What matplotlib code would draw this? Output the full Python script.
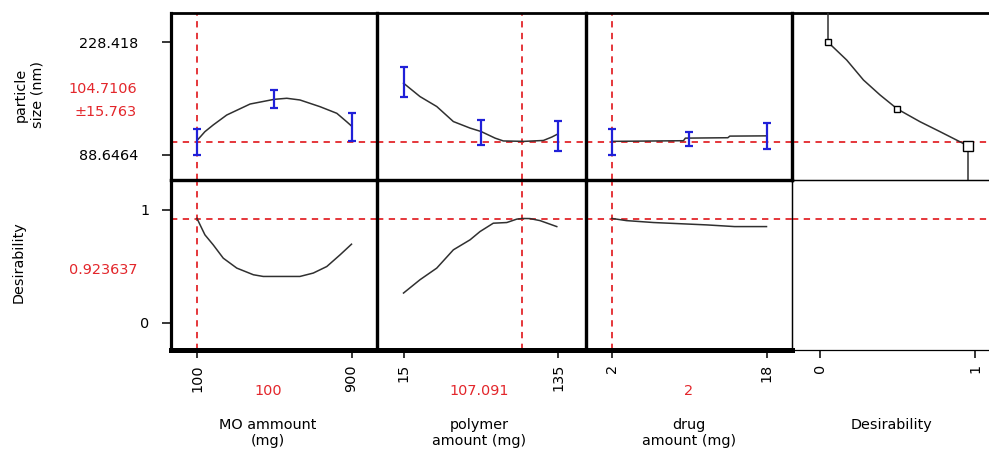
import matplotlib
matplotlib.use("Agg")
import matplotlib.pyplot as plt

plt.rcParams['font.family'] = ['DejaVu Sans']

# ---------------- data ----------------
factor_titles = ["MO ammount\n(mg)", "polymer\namount (mg)", "drug\namount (mg)", "Desirability"]
factor_ticks = [[100, 900], [15, 135], [2, 18], [0, 1]]
factor_current = ["100", "107.091", "2"]
current_x = [100, 107.091, 2]

size_ticks = [88.6464, 228.418]
size_ticklabels = ["88.6464", "228.418"]
size_current = 104.7106
size_ci_label = "104.7106\n±15.763"
des_ticks = [0, 1]
des_current = 0.923637

# particle size profiles
mo_x = [100, 141, 184, 254, 375, 500, 565, 633, 737, 824, 875, 900]
mo_size = [106.5, 117.5, 125.8, 138.1, 151.7, 157.5, 158.8, 156.7, 148.4, 140.2, 129.8, 124.5]
mo_bar_x = [100, 500, 900]
mo_bar_size = [104.7, 157.9, 123.3]
mo_bar_err = [15.76, 11.1, 17.3]

poly_x = [15, 27.8, 40.8, 53.7, 66.7, 75.2, 86.1, 92.5, 108.8, 123.6, 130.1, 134.8]
poly_size = [177.5, 160.9, 148.6, 130.0, 121.9, 117.7, 109.5, 106.0, 105.5, 106.6, 110.8, 114.6]
poly_bar_x = [15, 75, 135]
poly_bar_size = [178.9, 115.9, 112.4]
poly_bar_err = [18.9, 15.5, 18.8]

drug_x = [2, 9.4, 9.6, 14.0, 14.2, 18]
drug_size = [105.5, 106.3, 109.5, 110.0, 112.0, 112.3]
drug_bar_x = [2, 10, 18]
drug_bar_size = [104.7, 108.8, 112.1]
drug_bar_err = [15.9, 8.7, 16.5]

# desirability function for particle size
dfun_d = [0.05, 0.172, 0.280, 0.387, 0.499, 0.645, 0.774, 0.953]
dfun_size = [228.4, 206.1, 181.4, 162.9, 145.5, 129.8, 117.5, 100.1]
dfun_handles = [0, 4, 7]

# desirability profiles
mo_dx = [100, 141, 184, 236, 306, 392, 443, 633, 702, 772, 841, 900]
mo_des = [0.924, 0.779, 0.690, 0.572, 0.484, 0.425, 0.410, 0.410, 0.440, 0.498, 0.602, 0.696]
poly_dx = [15, 27.8, 40.8, 53.7, 66.7, 74.4, 84.7, 95.2, 102.9, 107.1, 113.2, 121.0, 134]
poly_des = [0.263, 0.381, 0.484, 0.646, 0.735, 0.808, 0.882, 0.888, 0.918, 0.924, 0.923, 0.905, 0.852]
drug_dx = [2, 3.5, 6.3, 11.8, 14.7, 18]
drug_des = [0.924, 0.905, 0.888, 0.867, 0.852, 0.852]

# ---------------- layout (pixel frames) ----------------
W, H = 989, 451
fig = plt.figure(figsize=(W / 100, H / 100), dpi=100)

cols = [(171, 377), (377, 586), (586, 792), (792, 1000)]
rows = [(13, 180), (180, 350)]
xlims = [(-34.6, 1032), (-5.6, 156.7), (-0.69, 20.64), (-0.181, 1.161)]
ylims = [(57.7, 264.3), (-0.242, 1.265)]

RED = '#e3262b'
BLUE = '#2020d8'
CURVE = '#303030'
FS = 10.4


def frame(c, r):
    x0, x1 = cols[c]
    y0, y1 = rows[r]
    ax = fig.add_axes([x0 / W, 1 - y1 / H, (x1 - x0) / W, (y1 - y0) / H])
    ax.set_xlim(*xlims[c])
    ax.set_ylim(*ylims[r])
    ax.set_xticks([])
    ax.set_yticks([])
    ax.patch.set_alpha(0)
    return ax


axes = [[frame(c, r) for c in range(4)] for r in range(2)]

thick, thin = 2.3, 0.9
for r in range(2):
    for c in range(4):
        ax = axes[r][c]
        for s in ax.spines.values():
            s.set_color('black')
            s.set_linewidth(thick)
        ax.spines['right'].set_visible(c != 3)
        if c == 3:
            ax.spines['bottom'].set_linewidth(thin)
            if r == 1:
                ax.spines['left'].set_linewidth(thin)
                ax.spines['top'].set_linewidth(thin)
        if r == 0:
            ax.spines['top'].set_linewidth(2.0)
        if r == 1 and c < 3:
            ax.spines['bottom'].set_linewidth(3.6)
        if r == 1 and c == 2:
            ax.spines['right'].set_linewidth(thin)

dash = dict(color=RED, lw=1.3, ls=(0, (3.5, 3)))

# top row profiles
profiles_top = [(mo_x, mo_size, mo_bar_x, mo_bar_size, mo_bar_err),
                (poly_x, poly_size, poly_bar_x, poly_bar_size, poly_bar_err),
                (drug_x, drug_size, drug_bar_x, drug_bar_size, drug_bar_err)]
for c, (px, py, bx, by, be) in enumerate(profiles_top):
    ax = axes[0][c]
    ax.axhline(size_current, **dash, zorder=1)
    ax.axvline(current_x[c], **dash, zorder=1)
    ax.plot(px, py, color=CURVE, lw=1.1, zorder=3)
    ax.errorbar(bx, by, yerr=be, fmt='none', ecolor=BLUE, elinewidth=1.6,
                capsize=3.2, capthick=1.6, zorder=4)

# desirability function panel
ax = axes[0][3]
ax.axhline(size_current, **dash, zorder=1)
ax.plot(dfun_d, dfun_size, color=CURVE, lw=1.1, zorder=3)
ax.vlines(dfun_d[0], dfun_size[0], ylims[0][1], color=CURVE, lw=1.1, zorder=3)
ax.vlines(dfun_d[-1], ylims[0][0], dfun_size[-1], color=CURVE, lw=1.1, zorder=3)
for k, i in enumerate(dfun_handles):
    ax.plot(dfun_d[i], dfun_size[i], marker='s', ms=5 if k < 2 else 7,
            mfc='white', mec='black', mew=1.0, zorder=5)

# bottom row profiles
profiles_bot = [(mo_dx, mo_des), (poly_dx, poly_des), (drug_dx, drug_des)]
for c, (px, py) in enumerate(profiles_bot):
    ax = axes[1][c]
    ax.axhline(des_current, **dash, zorder=1)
    ax.axvline(current_x[c], **dash, zorder=1)
    ax.plot(px, py, color=CURVE, lw=1.1, zorder=3)
axes[1][3].axhline(des_current, **dash, zorder=1)

# y ticks (first column)
ax = axes[0][0]
ax.set_yticks(size_ticks)
ax.set_yticklabels(size_ticklabels)
ax.tick_params(axis='y', direction='out', length=6.5, width=1.1, pad=17, labelsize=FS)
ax = axes[1][0]
ax.set_yticks(des_ticks)
ax.set_yticklabels([str(t) for t in des_ticks])
ax.tick_params(axis='y', direction='out', length=6.5, width=1.1, pad=9, labelsize=FS)

# x ticks (bottom row)
for c in range(4):
    ax = axes[1][c]
    ax.set_xticks(factor_ticks[c])
    ax.set_xticklabels([str(t) for t in factor_ticks[c]], rotation=90)
    ax.tick_params(axis='x', direction='out', length=6, width=1.1, pad=4, labelsize=FS)


def ftext(x, y, s, **kw):
    fig.text(x / W, 1 - y / H, s, fontsize=FS, **kw)


# left labels
ftext(29, 95, "particle\nsize (nm)", rotation=90, ha='center', va='center', linespacing=1.2)
ftext(19, 262, "Desirability", rotation=90, ha='center', va='center')
ftext(137, 89, size_ci_label.split("\n")[0], color=RED, ha='right', va='center')
ftext(137, 112, size_ci_label.split("\n")[1], color=RED, ha='right', va='center')
ftext(137, 270, f"{des_current:g}", color=RED, ha='right', va='center')

# bottom labels
centers = [268, 479, 689, 891]
for c in range(4):
    if c < 3:
        ftext(centers[c], 391, factor_current[c], color=RED, ha='center', va='center')
    if c < 3:
        ftext(centers[c], 433, factor_titles[c], ha='center', va='center', linespacing=1.1)
    else:
        ftext(centers[c], 425, factor_titles[c], ha='center', va='center')

fig.savefig("out.png", dpi=100)
